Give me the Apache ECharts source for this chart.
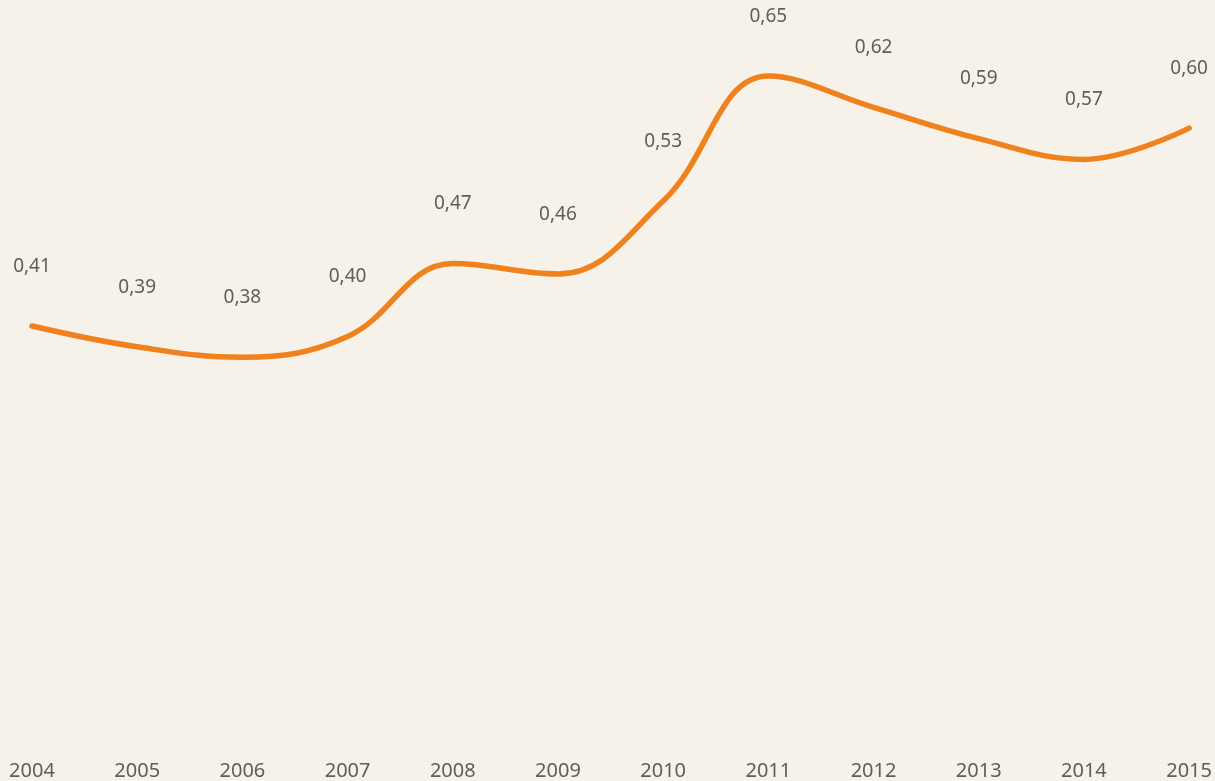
<!DOCTYPE html>
<html>
<head>
<meta charset="utf-8">
<script src="https://cdn.jsdelivr.net/npm/echarts@6/dist/echarts.min.js"></script>
<style>
  html, body { margin: 0; padding: 0; background: #f6f1e9; }
  #chart { width: 1215px; height: 781px; }
</style>
</head>
<body>
<div id="chart"></div>
<script>
const years = ['2004', '2005', '2006', '2007', '2008', '2009', '2010', '2011', '2012', '2013', '2014', '2015']
const values = [0.41, 0.39, 0.38, 0.40, 0.47, 0.46, 0.53, 0.65, 0.62, 0.59, 0.57, 0.60]

const chart = echarts.init(document.getElementById('chart'))
chart.setOption({
  backgroundColor: '#f6f1e9',
  animation: false,
  grid: {
    left: 32,
    right: 17,
    top: 24,
    bottom: 28
  },
  xAxis: {
    type: 'category',
    data: years,
    boundaryGap: false,
    axisLine: { show: false },
    axisTick: { show: false },
    axisLabel: {
      color: '#5e5e5e',
      fontSize: 20,
      fontFamily: 'Noto Sans',
      margin: 8,
      interval: 0
    }
  },
  yAxis: {
    type: 'value',
    min: 0,
    max: 0.7,
    show: false
  },
  series: [
    {
      type: 'line',
      data: values,
      smooth: 0.4,
      symbol: 'circle',
      symbolSize: 2,
      showSymbol: true,
      itemStyle: { color: 'rgba(0,0,0,0)', borderWidth: 0 },
      lineStyle: { color: '#f0821e', width: 5.5, cap: 'round' },
      label: {
        show: true,
        position: 'top',
        distance: 49,
        color: '#5e5e5e',
        fontSize: 19,
        fontFamily: 'Noto Sans',
        formatter: p => p.value.toFixed(2).replace('.', ',')
      }
    }
  ]
})
</script>
</body>
</html>
